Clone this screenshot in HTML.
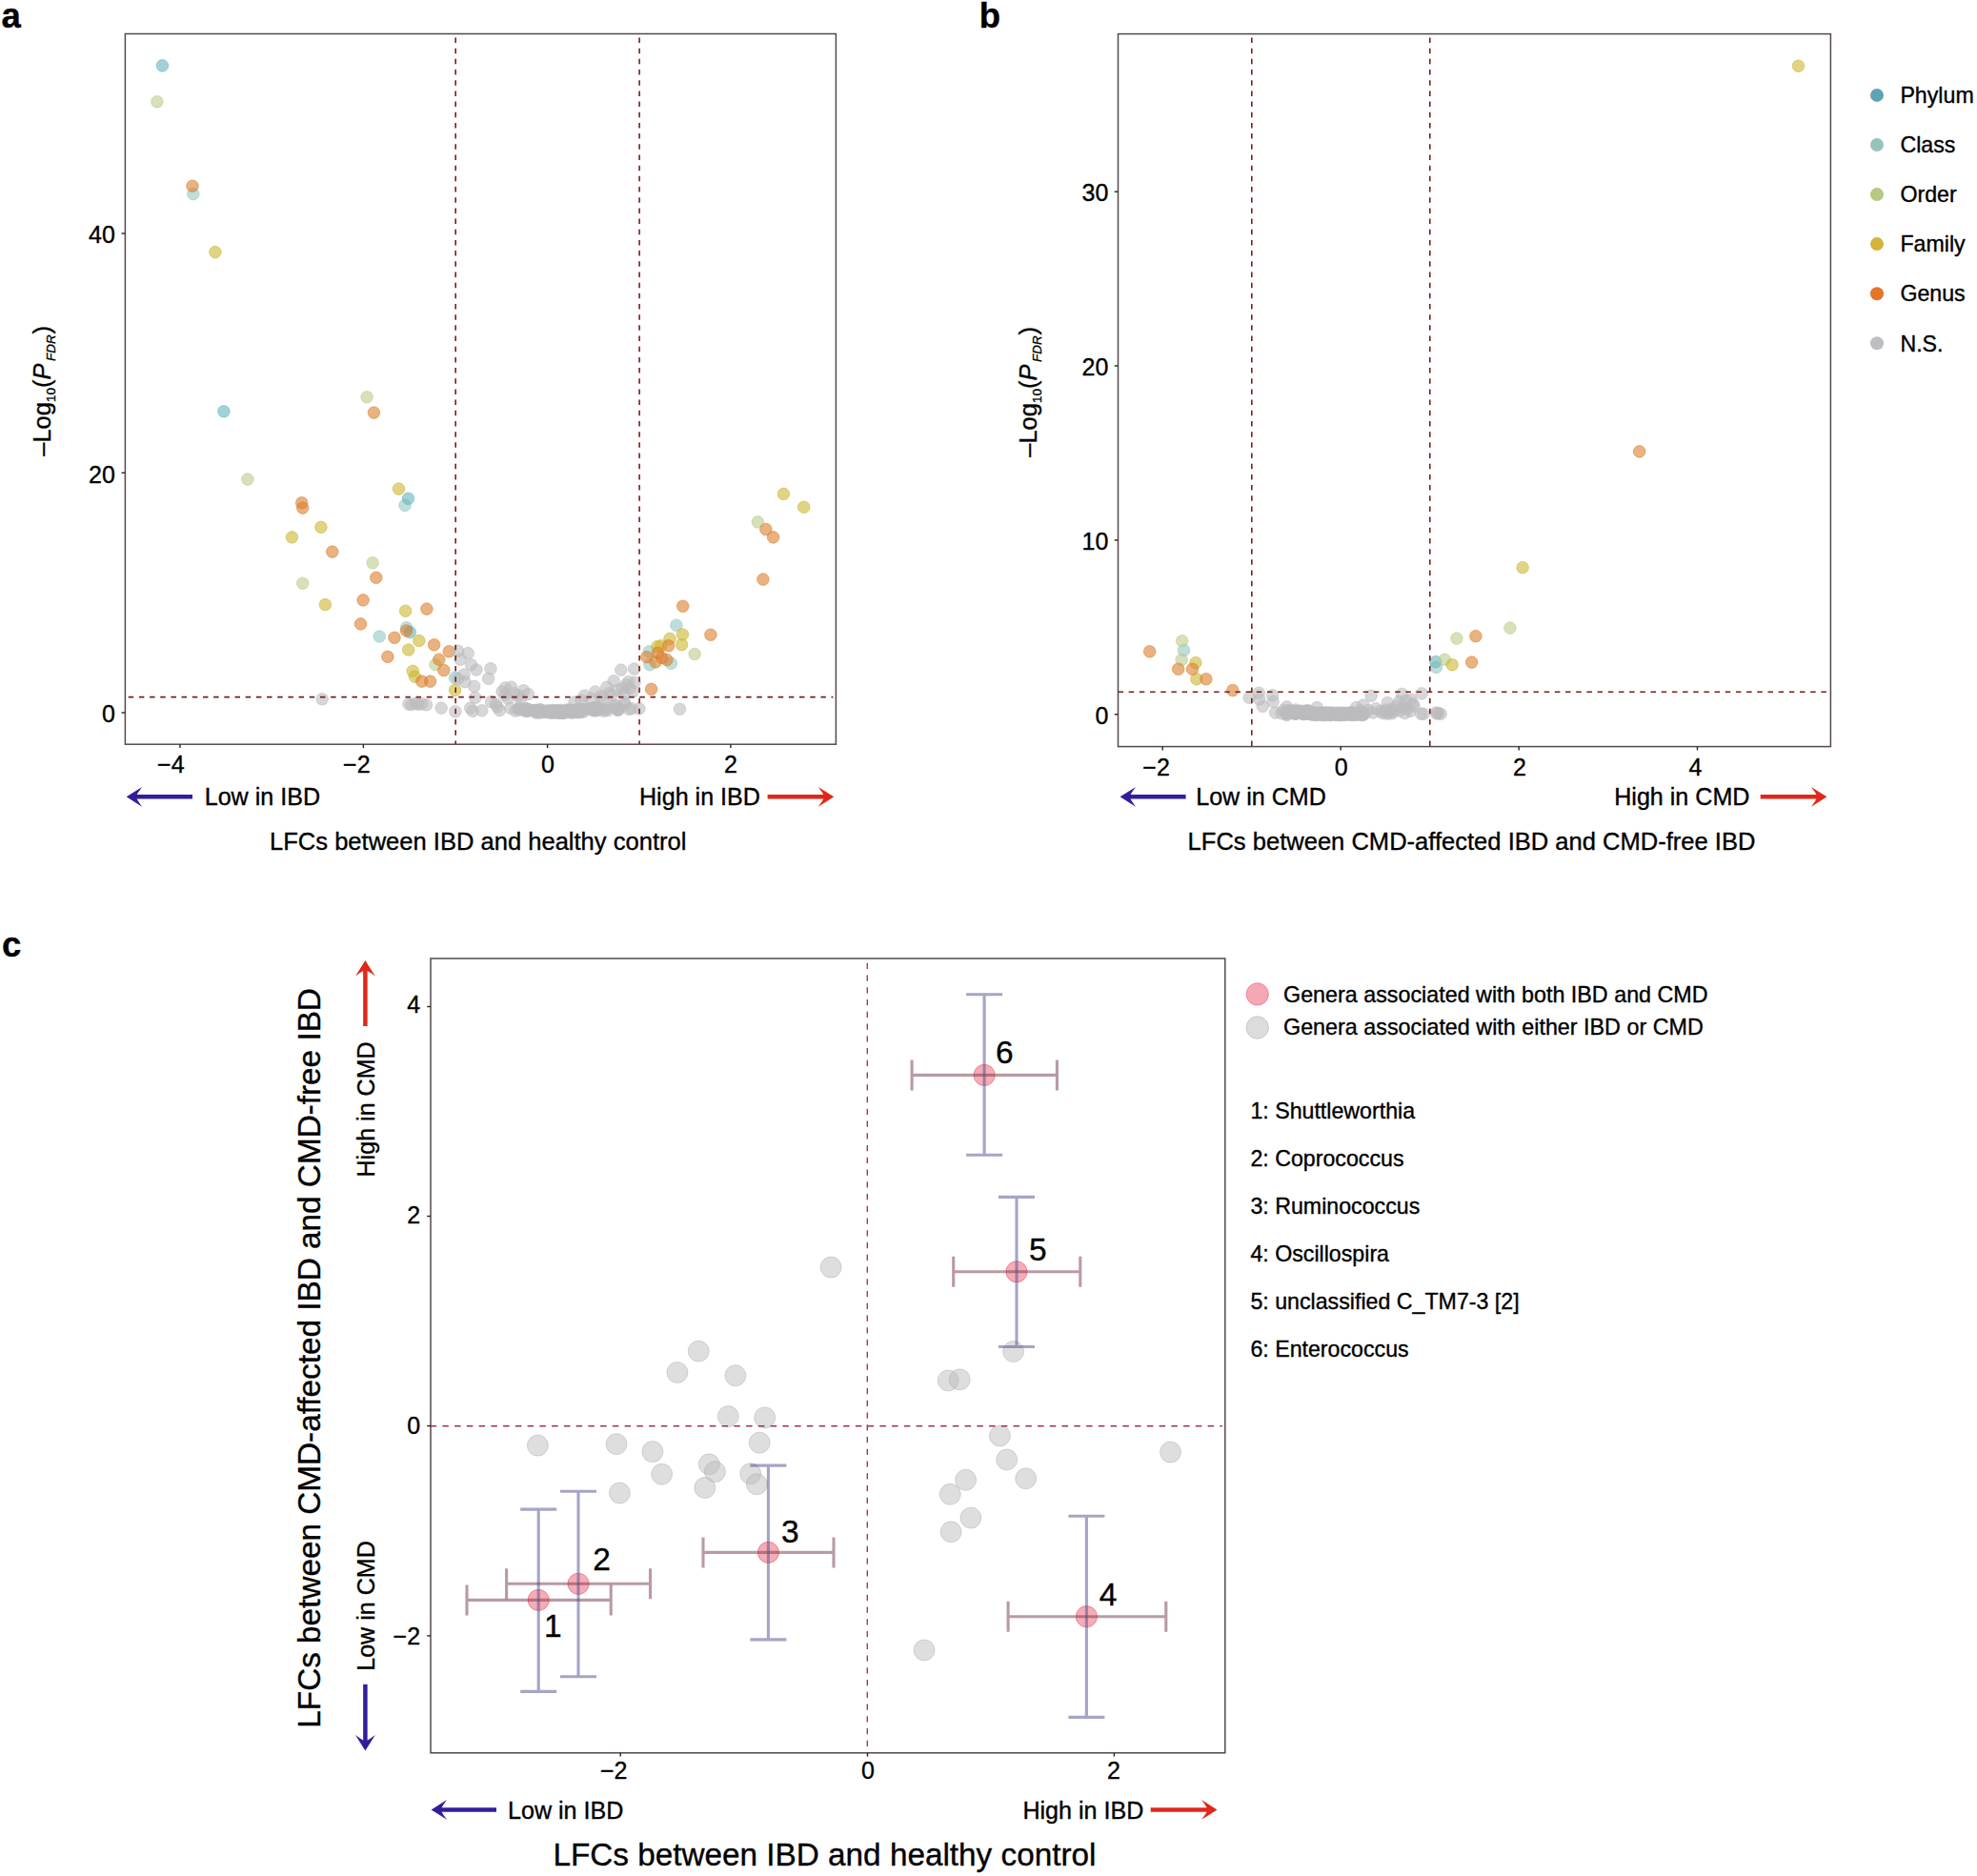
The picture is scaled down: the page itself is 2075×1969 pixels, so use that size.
<!DOCTYPE html>
<html lang="en"><head><meta charset="utf-8"><title>Figure</title>
<style>html,body{margin:0;padding:0;background:#fff}svg{display:block}text{font-family:'Liberation Sans', Arial, Helvetica, sans-serif;fill:#000;stroke:#000;stroke-width:0.35px;stroke-linejoin:round}</style>
</head><body>
<svg width="2075" height="1969" viewBox="0 0 2075 1969" role="img" aria-label="Volcano plots and log fold change comparison">
<rect width="2075" height="1969" fill="#fff"/>
<g fill="#93c8c5" fill-opacity="0.6" stroke="#93c8c5" stroke-opacity="0.55" stroke-width="1.0">
<circle cx="202.8" cy="203.6" r="6.3"/><circle cx="425" cy="530.4" r="6.3"/><circle cx="426.6" cy="658.8" r="6.3"/><circle cx="398.2" cy="668" r="6.3"/><circle cx="477.4" cy="711.4" r="6.3"/><circle cx="709.9" cy="656.2" r="6.3"/><circle cx="681.4" cy="683.8" r="6.3"/><circle cx="704.3" cy="696.2" r="6.3"/><circle cx="682" cy="697.8" r="6.3"/>
</g>
<g fill="#66b4bb" fill-opacity="0.6" stroke="#66b4bb" stroke-opacity="0.55" stroke-width="1.0">
<circle cx="170.4" cy="68.9" r="6.3"/><circle cx="234.9" cy="431.8" r="6.3"/><circle cx="428.5" cy="523.3" r="6.3"/><circle cx="430.3" cy="663.5" r="6.3"/>
</g>
<g fill="#bbcb8c" fill-opacity="0.6" stroke="#bbcb8c" stroke-opacity="0.55" stroke-width="1.0">
<circle cx="164.9" cy="106.8" r="6.3"/><circle cx="385.1" cy="416.8" r="6.3"/><circle cx="259.9" cy="503.1" r="6.3"/><circle cx="391.1" cy="590.7" r="6.3"/><circle cx="317.7" cy="612.2" r="6.3"/><circle cx="456.9" cy="697.5" r="6.3"/><circle cx="795.3" cy="547.9" r="6.3"/><circle cx="729.1" cy="686.5" r="6.3"/>
</g>
<g fill="#cbb732" fill-opacity="0.6" stroke="#cbb732" stroke-opacity="0.55" stroke-width="1.0">
<circle cx="225.9" cy="264.6" r="6.3"/><circle cx="418.5" cy="513.1" r="6.3"/><circle cx="336.9" cy="553.3" r="6.3"/><circle cx="306.4" cy="563.9" r="6.3"/><circle cx="341.4" cy="634.6" r="6.3"/><circle cx="425.6" cy="641.2" r="6.3"/><circle cx="439.8" cy="672.5" r="6.3"/><circle cx="428.7" cy="682" r="6.3"/><circle cx="433.2" cy="704.3" r="6.3"/><circle cx="435.3" cy="710.1" r="6.3"/><circle cx="477.6" cy="724.3" r="6.3"/><circle cx="822.4" cy="518.4" r="6.3"/><circle cx="843.7" cy="532.3" r="6.3"/><circle cx="716.4" cy="666" r="6.3"/><circle cx="703" cy="670.4" r="6.3"/><circle cx="715.6" cy="676.7" r="6.3"/><circle cx="689.9" cy="678.6" r="6.3"/><circle cx="693.8" cy="677.8" r="6.3"/>
</g>
<g fill="#da7f2b" fill-opacity="0.6" stroke="#da7f2b" stroke-opacity="0.55" stroke-width="1.0">
<circle cx="202" cy="195.2" r="6.3"/><circle cx="392.4" cy="433.1" r="6.3"/><circle cx="316.7" cy="527.8" r="6.3"/><circle cx="317.7" cy="533.1" r="6.3"/><circle cx="348.8" cy="579.1" r="6.3"/><circle cx="394.8" cy="606.2" r="6.3"/><circle cx="381.1" cy="629.9" r="6.3"/><circle cx="447.9" cy="639.1" r="6.3"/><circle cx="378.5" cy="654.9" r="6.3"/><circle cx="426.6" cy="662" r="6.3"/><circle cx="414" cy="669.3" r="6.3"/><circle cx="455.6" cy="676.7" r="6.3"/><circle cx="471.3" cy="683.8" r="6.3"/><circle cx="406.9" cy="689.3" r="6.3"/><circle cx="460.8" cy="692.2" r="6.3"/><circle cx="465.8" cy="703.5" r="6.3"/><circle cx="442.7" cy="715.1" r="6.3"/><circle cx="451.6" cy="715.1" r="6.3"/><circle cx="803.8" cy="555.5" r="6.3"/><circle cx="811.6" cy="563.9" r="6.3"/><circle cx="800.9" cy="608.1" r="6.3"/><circle cx="716.7" cy="636.2" r="6.3"/><circle cx="745.9" cy="666.2" r="6.3"/><circle cx="701.7" cy="677.8" r="6.3"/><circle cx="690.4" cy="685.2" r="6.3"/><circle cx="678.8" cy="689.6" r="6.3"/><circle cx="694.6" cy="690.4" r="6.3"/><circle cx="699.9" cy="692.5" r="6.3"/><circle cx="688" cy="694.9" r="6.3"/><circle cx="683.6" cy="723.3" r="6.3"/>
</g>
<g fill="#bcbbbe" fill-opacity="0.6" stroke="#bcbbbe" stroke-opacity="0.55" stroke-width="1.0">
<circle cx="480.7" cy="683.2" r="6.3"/><circle cx="491.2" cy="685.6" r="6.3"/><circle cx="483.1" cy="692.1" r="6.3"/><circle cx="494.5" cy="697.7" r="6.3"/><circle cx="515" cy="701.8" r="6.3"/><circle cx="512.6" cy="712.3" r="6.3"/><circle cx="480.7" cy="712.3" r="6.3"/><circle cx="488" cy="715.6" r="6.3"/><circle cx="497.7" cy="720.4" r="6.3"/><circle cx="498.8" cy="732.2" r="6.3"/><circle cx="530.1" cy="722" r="6.3"/><circle cx="536.5" cy="721.2" r="6.3"/><circle cx="549.5" cy="724.8" r="6.3"/><circle cx="554.4" cy="728.5" r="6.3"/><circle cx="530.1" cy="729.3" r="6.3"/><circle cx="539.8" cy="727.7" r="6.3"/><circle cx="544.6" cy="730.1" r="6.3"/><circle cx="527" cy="726" r="6.3"/><circle cx="533" cy="733" r="6.3"/><circle cx="546" cy="734" r="6.3"/><circle cx="665.7" cy="702.1" r="6.3"/><circle cx="651.8" cy="703.1" r="6.3"/><circle cx="644.2" cy="714.7" r="6.3"/><circle cx="659.6" cy="715.6" r="6.3"/><circle cx="666" cy="716.4" r="6.3"/><circle cx="636.9" cy="721.2" r="6.3"/><circle cx="657.1" cy="718.8" r="6.3"/><circle cx="624.8" cy="726.1" r="6.3"/><circle cx="613.4" cy="730.1" r="6.3"/><circle cx="639.3" cy="727.7" r="6.3"/><circle cx="653.1" cy="722.8" r="6.3"/><circle cx="630.4" cy="730.9" r="6.3"/><circle cx="620.7" cy="733.4" r="6.3"/><circle cx="648" cy="724" r="6.3"/><circle cx="661" cy="722" r="6.3"/><circle cx="642" cy="730" r="6.3"/><circle cx="633" cy="733" r="6.3"/><circle cx="655" cy="728" r="6.3"/><circle cx="664" cy="726" r="6.3"/><circle cx="610" cy="735" r="6.3"/><circle cx="603" cy="737" r="6.3"/><circle cx="428.9" cy="739" r="6.3"/><circle cx="436.2" cy="738.2" r="6.3"/><circle cx="442.7" cy="738.7" r="6.3"/><circle cx="447.5" cy="739.8" r="6.3"/><circle cx="463.2" cy="743.1" r="6.3"/><circle cx="477.9" cy="746.8" r="6.3"/><circle cx="493.6" cy="743.1" r="6.3"/><circle cx="496.1" cy="746.3" r="6.3"/><circle cx="505.8" cy="745.8" r="6.3"/><circle cx="515.5" cy="736.6" r="6.3"/><circle cx="520.4" cy="739" r="6.3"/><circle cx="524.4" cy="745.5" r="6.3"/><circle cx="522" cy="742" r="6.3"/><circle cx="670.9" cy="743.9" r="6.3"/><circle cx="713.5" cy="744.2" r="6.3"/><circle cx="338.2" cy="733.8" r="6.3"/><circle cx="432" cy="739.5" r="6.3"/><circle cx="439" cy="739.2" r="6.3"/><circle cx="500" cy="703" r="6.3"/><circle cx="487" cy="708" r="6.3"/><circle cx="582.5" cy="745.7" r="6.3"/><circle cx="608.2" cy="744.4" r="6.3"/><circle cx="598.5" cy="746.1" r="6.3"/><circle cx="552.2" cy="745.6" r="6.3"/><circle cx="547.9" cy="744.9" r="6.3"/><circle cx="554.4" cy="744.3" r="6.3"/><circle cx="590.1" cy="748.1" r="6.3"/><circle cx="562.5" cy="745.4" r="6.3"/><circle cx="606.1" cy="747.7" r="6.3"/><circle cx="601.8" cy="746" r="6.3"/><circle cx="655.4" cy="736.8" r="6.3"/><circle cx="579.7" cy="745.7" r="6.3"/><circle cx="561.7" cy="745.6" r="6.3"/><circle cx="625.7" cy="742.8" r="6.3"/><circle cx="602.2" cy="746.8" r="6.3"/><circle cx="586.3" cy="747.1" r="6.3"/><circle cx="553.1" cy="744.1" r="6.3"/><circle cx="571.9" cy="747.5" r="6.3"/><circle cx="590.4" cy="746.2" r="6.3"/><circle cx="602.5" cy="746.2" r="6.3"/><circle cx="580.5" cy="748.1" r="6.3"/><circle cx="612.8" cy="744.6" r="6.3"/><circle cx="601.6" cy="746.5" r="6.3"/><circle cx="633.9" cy="746.4" r="6.3"/><circle cx="561.7" cy="746" r="6.3"/><circle cx="618.8" cy="743.6" r="6.3"/><circle cx="594.9" cy="745.1" r="6.3"/><circle cx="609.8" cy="746.7" r="6.3"/><circle cx="601.5" cy="747.7" r="6.3"/><circle cx="581.7" cy="747.7" r="6.3"/><circle cx="603.3" cy="746.6" r="6.3"/><circle cx="592.4" cy="748" r="6.3"/><circle cx="646.6" cy="740.2" r="6.3"/><circle cx="552.7" cy="746.4" r="6.3"/><circle cx="607.9" cy="747.7" r="6.3"/><circle cx="626.5" cy="743.1" r="6.3"/><circle cx="587.3" cy="747.6" r="6.3"/><circle cx="543.9" cy="744.5" r="6.3"/><circle cx="567.8" cy="745.3" r="6.3"/><circle cx="552.4" cy="746.6" r="6.3"/><circle cx="563.2" cy="745.5" r="6.3"/><circle cx="587.7" cy="748.3" r="6.3"/><circle cx="556.2" cy="745.8" r="6.3"/><circle cx="599.6" cy="747.9" r="6.3"/><circle cx="626.1" cy="745.2" r="6.3"/><circle cx="578.7" cy="746.7" r="6.3"/><circle cx="585.3" cy="748.4" r="6.3"/><circle cx="649.8" cy="744.2" r="6.3"/><circle cx="574.6" cy="746.9" r="6.3"/><circle cx="602.8" cy="745.5" r="6.3"/><circle cx="535.9" cy="743.3" r="6.3"/><circle cx="586.1" cy="747.2" r="6.3"/><circle cx="648.6" cy="745.4" r="6.3"/><circle cx="610.6" cy="744.1" r="6.3"/><circle cx="637.8" cy="743" r="6.3"/><circle cx="623.5" cy="743.9" r="6.3"/><circle cx="588.3" cy="745.5" r="6.3"/><circle cx="606.7" cy="744.4" r="6.3"/><circle cx="554" cy="744.7" r="6.3"/><circle cx="567.2" cy="746.1" r="6.3"/><circle cx="551.2" cy="743.7" r="6.3"/><circle cx="565.9" cy="745.2" r="6.3"/><circle cx="585.7" cy="745.3" r="6.3"/><circle cx="633.7" cy="744.3" r="6.3"/><circle cx="584.4" cy="746.5" r="6.3"/><circle cx="562.4" cy="747.6" r="6.3"/><circle cx="663" cy="743.8" r="6.3"/><circle cx="559.5" cy="745.6" r="6.3"/><circle cx="577.5" cy="748.2" r="6.3"/><circle cx="567.1" cy="744.9" r="6.3"/><circle cx="648.1" cy="745.1" r="6.3"/><circle cx="545.2" cy="744.9" r="6.3"/><circle cx="656.2" cy="739.5" r="6.3"/><circle cx="577.2" cy="746.5" r="6.3"/><circle cx="567.7" cy="747.7" r="6.3"/><circle cx="598.2" cy="747.6" r="6.3"/><circle cx="583" cy="746" r="6.3"/><circle cx="625.2" cy="745.8" r="6.3"/><circle cx="630.6" cy="744.3" r="6.3"/><circle cx="617" cy="744.1" r="6.3"/><circle cx="597.1" cy="746.1" r="6.3"/><circle cx="545.7" cy="743.2" r="6.3"/><circle cx="578.8" cy="746.1" r="6.3"/><circle cx="612.2" cy="747.2" r="6.3"/><circle cx="591.8" cy="748.4" r="6.3"/><circle cx="660.2" cy="744.2" r="6.3"/><circle cx="574" cy="745.8" r="6.3"/><circle cx="571.7" cy="747.3" r="6.3"/><circle cx="637.9" cy="745.5" r="6.3"/><circle cx="623.7" cy="742.7" r="6.3"/><circle cx="609.1" cy="747.3" r="6.3"/><circle cx="621.7" cy="745.4" r="6.3"/><circle cx="594" cy="745.6" r="6.3"/><circle cx="622.4" cy="743.8" r="6.3"/><circle cx="623.8" cy="745.9" r="6.3"/><circle cx="588.1" cy="746.6" r="6.3"/><circle cx="647.1" cy="743.9" r="6.3"/><circle cx="565.9" cy="748" r="6.3"/><circle cx="624.5" cy="742.8" r="6.3"/><circle cx="627.1" cy="745.5" r="6.3"/><circle cx="608.8" cy="745.3" r="6.3"/><circle cx="599.5" cy="745.2" r="6.3"/><circle cx="541" cy="746" r="6.3"/><circle cx="608.1" cy="746" r="6.3"/><circle cx="644.2" cy="740.6" r="6.3"/><circle cx="627" cy="742.7" r="6.3"/><circle cx="576.3" cy="746.2" r="6.3"/><circle cx="575.3" cy="747.2" r="6.3"/><circle cx="577" cy="746.7" r="6.3"/><circle cx="563.4" cy="747.9" r="6.3"/><circle cx="584.9" cy="746.8" r="6.3"/><circle cx="602.3" cy="747.8" r="6.3"/><circle cx="589.9" cy="748.4" r="6.3"/><circle cx="595.8" cy="746.8" r="6.3"/><circle cx="597.5" cy="744.9" r="6.3"/>
</g>
<g stroke="#74201a" stroke-width="1.6" stroke-dasharray="5.5 5.68" fill="none">
<path d="M478.2 39.5V781.2"/><path d="M671.1 39.5V781.2"/><path d="M131.4 731.6H874.4" stroke-dashoffset="-3.3"/>
</g>
<rect x="131.4" y="35.5" width="746" height="745.7" fill="none" stroke="#54494b" stroke-width="1.5"/>
<g stroke="#2a2224" stroke-width="1.4">
<path d="M127.6 245H131.4"/>
<path d="M127.6 496.3H131.4"/>
<path d="M127.6 748H131.4"/>
<path d="M188.9 781.2V785"/>
<path d="M381.4 781.2V785"/>
<path d="M574.6 781.2V785"/>
<path d="M766.9 781.2V785"/>
</g>
<text x="120.8" y="254.9" font-size="25" text-anchor="end">40</text>
<text x="120.8" y="507" font-size="25" text-anchor="end">20</text>
<text x="120.8" y="757.8" font-size="25" text-anchor="end">0</text>
<text x="193.6" y="811.3" font-size="25" text-anchor="end">−4</text>
<text x="388.6" y="811.3" font-size="25" text-anchor="end">−2</text>
<text x="574.9" y="811.3" font-size="25" text-anchor="middle">0</text>
<text x="767" y="811.3" font-size="25" text-anchor="middle">2</text>
<text transform="translate(53.1 478.8) rotate(-90)" font-size="25.5">–Log<tspan font-size="13.5" dy="5.3">10</tspan><tspan dy="-5.3">(</tspan><tspan font-style="italic">P</tspan><tspan font-size="13.5" font-style="italic" dy="5.3" dx="2.6">FDR</tspan><tspan dy="-5.3" dx="0.8">)</tspan></text>
<path d="M202 836.3H141.5" stroke="#321e9b" stroke-width="4.5" fill="none"/>
<path d="M132.7 836.3L149.1 825.9Q144.5 831.7 142.5 836.3Q144.5 840.9 149.1 846.7Z" fill="#321e9b"/>
<text x="214.7" y="845.4" font-size="25.1">Low in IBD</text>
<text x="671" y="845.4" font-size="25.1">High in IBD</text>
<path d="M805.6 836.3H866.4" stroke="#e0281a" stroke-width="4.5" fill="none"/>
<path d="M875.2 836.3L858.8 825.9Q863.4 831.7 865.4 836.3Q863.4 840.9 858.8 846.7Z" fill="#e0281a"/>
<text x="283" y="891.9" font-size="25.55">LFCs between IBD and healthy control</text>
<text x="1.5" y="28.9" font-size="36.5" font-weight="bold">a</text>
<g fill="#93c8c5" fill-opacity="0.6" stroke="#93c8c5" stroke-opacity="0.55" stroke-width="1.0">
<circle cx="1242.5" cy="682.5" r="6.3"/><circle cx="1507.4" cy="700.4" r="6.3"/>
</g>
<g fill="#66b4bb" fill-opacity="0.6" stroke="#66b4bb" stroke-opacity="0.55" stroke-width="1.0">
<circle cx="1506.8" cy="694.6" r="6.3"/>
</g>
<g fill="#bbcb8c" fill-opacity="0.6" stroke="#bbcb8c" stroke-opacity="0.55" stroke-width="1.0">
<circle cx="1240.7" cy="672.7" r="6.3"/><circle cx="1240.1" cy="692.5" r="6.3"/><circle cx="1584.9" cy="659.1" r="6.3"/><circle cx="1528.9" cy="670.1" r="6.3"/><circle cx="1516.3" cy="692.2" r="6.3"/>
</g>
<g fill="#cbb732" fill-opacity="0.6" stroke="#cbb732" stroke-opacity="0.55" stroke-width="1.0">
<circle cx="1254.9" cy="695.6" r="6.3"/><circle cx="1255.9" cy="712.7" r="6.3"/><circle cx="1887.5" cy="69.2" r="6.3"/><circle cx="1598.1" cy="595.7" r="6.3"/><circle cx="1524.2" cy="697.7" r="6.3"/>
</g>
<g fill="#da7f2b" fill-opacity="0.6" stroke="#da7f2b" stroke-opacity="0.55" stroke-width="1.0">
<circle cx="1206.7" cy="683.8" r="6.3"/><circle cx="1236.7" cy="702.2" r="6.3"/><circle cx="1251.5" cy="702.2" r="6.3"/><circle cx="1265.9" cy="712.7" r="6.3"/><circle cx="1293.8" cy="724.6" r="6.3"/><circle cx="1720.7" cy="473.9" r="6.3"/><circle cx="1548.9" cy="667.7" r="6.3"/><circle cx="1544.7" cy="695.1" r="6.3"/>
</g>
<g fill="#bcbbbe" fill-opacity="0.6" stroke="#bcbbbe" stroke-opacity="0.55" stroke-width="1.0">
<circle cx="1311.2" cy="732.2" r="6.3"/><circle cx="1321.3" cy="727.3" r="6.3"/><circle cx="1321.8" cy="734" r="6.3"/><circle cx="1335.5" cy="729.7" r="6.3"/><circle cx="1336.1" cy="736.4" r="6.3"/><circle cx="1325.2" cy="741.3" r="6.3"/><circle cx="1338.6" cy="748" r="6.3"/><circle cx="1350.7" cy="741.9" r="6.3"/><circle cx="1347.1" cy="745.5" r="6.3"/><circle cx="1350.7" cy="750.4" r="6.3"/><circle cx="1345" cy="748.8" r="6.3"/><circle cx="1353" cy="745.5" r="6.3"/><circle cx="1356" cy="747.5" r="6.3"/><circle cx="1382.3" cy="742.5" r="6.3"/><circle cx="1360" cy="745" r="6.3"/><circle cx="1366" cy="746.2" r="6.3"/><circle cx="1439.1" cy="730.3" r="6.3"/><circle cx="1430.8" cy="740.1" r="6.3"/><circle cx="1423.5" cy="742.5" r="6.3"/><circle cx="1444.2" cy="743.7" r="6.3"/><circle cx="1436" cy="745.5" r="6.3"/><circle cx="1441" cy="748" r="6.3"/><circle cx="1428" cy="746" r="6.3"/><circle cx="1451" cy="748.6" r="6.3"/><circle cx="1453.5" cy="747" r="6.3"/><circle cx="1456" cy="749.2" r="6.3"/><circle cx="1458.5" cy="747.6" r="6.3"/><circle cx="1461" cy="748.8" r="6.3"/><circle cx="1462.4" cy="746.8" r="6.3"/><circle cx="1454.5" cy="745.2" r="6.3"/><circle cx="1459.5" cy="744.8" r="6.3"/><circle cx="1456.3" cy="737.6" r="6.3"/><circle cx="1449" cy="746.5" r="6.3"/><circle cx="1471.5" cy="728.5" r="6.3"/><circle cx="1492.1" cy="727.9" r="6.3"/><circle cx="1468.5" cy="736.4" r="6.3"/><circle cx="1475.7" cy="735.2" r="6.3"/><circle cx="1480.6" cy="734" r="6.3"/><circle cx="1483" cy="738.8" r="6.3"/><circle cx="1472.1" cy="742.5" r="6.3"/><circle cx="1477" cy="743.7" r="6.3"/><circle cx="1474.5" cy="748.6" r="6.3"/><circle cx="1469" cy="746" r="6.3"/><circle cx="1480" cy="746.5" r="6.3"/><circle cx="1491.5" cy="749.2" r="6.3"/><circle cx="1494" cy="749.2" r="6.3"/><circle cx="1509.7" cy="748.6" r="6.3"/><circle cx="1512.2" cy="749.2" r="6.3"/><circle cx="1507.3" cy="748" r="6.3"/><circle cx="1508.5" cy="749" r="6.3"/><circle cx="1484" cy="741" r="6.3"/><circle cx="1466" cy="741" r="6.3"/><circle cx="1386.1" cy="748.5" r="6.3"/><circle cx="1350.3" cy="749.7" r="6.3"/><circle cx="1388.8" cy="749.9" r="6.3"/><circle cx="1395.6" cy="748.8" r="6.3"/><circle cx="1392.5" cy="749.4" r="6.3"/><circle cx="1414.3" cy="748.3" r="6.3"/><circle cx="1395.9" cy="748.6" r="6.3"/><circle cx="1372.7" cy="748.8" r="6.3"/><circle cx="1396.1" cy="750" r="6.3"/><circle cx="1424.8" cy="749.2" r="6.3"/><circle cx="1400.2" cy="749.3" r="6.3"/><circle cx="1392" cy="749.8" r="6.3"/><circle cx="1387.1" cy="749.4" r="6.3"/><circle cx="1389.2" cy="750.4" r="6.3"/><circle cx="1407.3" cy="750.3" r="6.3"/><circle cx="1427.3" cy="748.7" r="6.3"/><circle cx="1395.9" cy="750.5" r="6.3"/><circle cx="1418.9" cy="748.4" r="6.3"/><circle cx="1360" cy="749" r="6.3"/><circle cx="1369.7" cy="746.6" r="6.3"/><circle cx="1414.3" cy="750.3" r="6.3"/><circle cx="1362.7" cy="748.3" r="6.3"/><circle cx="1361.7" cy="748" r="6.3"/><circle cx="1368" cy="749.5" r="6.3"/><circle cx="1390" cy="750.6" r="6.3"/><circle cx="1418.3" cy="748.4" r="6.3"/><circle cx="1385.4" cy="749.3" r="6.3"/><circle cx="1377.8" cy="748.5" r="6.3"/><circle cx="1376.1" cy="749.9" r="6.3"/><circle cx="1351.6" cy="748.4" r="6.3"/><circle cx="1351.5" cy="747.4" r="6.3"/><circle cx="1392" cy="748.2" r="6.3"/><circle cx="1430.8" cy="750" r="6.3"/><circle cx="1429.7" cy="748.3" r="6.3"/><circle cx="1371.8" cy="746.2" r="6.3"/><circle cx="1372.2" cy="747.3" r="6.3"/><circle cx="1424.7" cy="750.1" r="6.3"/><circle cx="1371.2" cy="746.2" r="6.3"/><circle cx="1396.8" cy="749.8" r="6.3"/><circle cx="1357.3" cy="746.5" r="6.3"/><circle cx="1384.9" cy="748.2" r="6.3"/><circle cx="1426.9" cy="749.6" r="6.3"/><circle cx="1415.7" cy="748.2" r="6.3"/><circle cx="1420.2" cy="748.2" r="6.3"/><circle cx="1420.7" cy="749.2" r="6.3"/><circle cx="1377.8" cy="749.4" r="6.3"/><circle cx="1426" cy="748.7" r="6.3"/><circle cx="1360.6" cy="748.8" r="6.3"/><circle cx="1359" cy="748.3" r="6.3"/><circle cx="1366.5" cy="748.1" r="6.3"/><circle cx="1412.3" cy="748.8" r="6.3"/><circle cx="1391" cy="748.5" r="6.3"/><circle cx="1378.5" cy="748" r="6.3"/><circle cx="1370.5" cy="746.3" r="6.3"/><circle cx="1395.2" cy="748.5" r="6.3"/><circle cx="1388.9" cy="750.4" r="6.3"/><circle cx="1358.7" cy="749.1" r="6.3"/><circle cx="1390.6" cy="750.2" r="6.3"/><circle cx="1382.2" cy="749.3" r="6.3"/><circle cx="1406.4" cy="750.6" r="6.3"/><circle cx="1378.1" cy="750.2" r="6.3"/><circle cx="1408" cy="749.7" r="6.3"/><circle cx="1383.2" cy="748.9" r="6.3"/><circle cx="1354.5" cy="748.2" r="6.3"/><circle cx="1410.8" cy="748.7" r="6.3"/><circle cx="1363.4" cy="746.2" r="6.3"/><circle cx="1421.4" cy="749.7" r="6.3"/><circle cx="1373.1" cy="747.9" r="6.3"/><circle cx="1387.7" cy="748.4" r="6.3"/><circle cx="1386.6" cy="748.7" r="6.3"/><circle cx="1428.9" cy="750.5" r="6.3"/><circle cx="1394.9" cy="748.6" r="6.3"/><circle cx="1429.2" cy="748.8" r="6.3"/><circle cx="1379.2" cy="748" r="6.3"/><circle cx="1381.3" cy="749.2" r="6.3"/><circle cx="1391.2" cy="748.5" r="6.3"/><circle cx="1391.4" cy="748" r="6.3"/><circle cx="1371.7" cy="747.3" r="6.3"/><circle cx="1353.4" cy="747.3" r="6.3"/><circle cx="1369.1" cy="748.3" r="6.3"/><circle cx="1411.5" cy="749.7" r="6.3"/><circle cx="1408.7" cy="750.3" r="6.3"/><circle cx="1381.9" cy="748.8" r="6.3"/><circle cx="1430.7" cy="748.4" r="6.3"/><circle cx="1409.4" cy="749.7" r="6.3"/><circle cx="1353.6" cy="748" r="6.3"/><circle cx="1401.4" cy="749.9" r="6.3"/><circle cx="1416.6" cy="748.4" r="6.3"/><circle cx="1392.9" cy="749.3" r="6.3"/><circle cx="1418.5" cy="750.1" r="6.3"/><circle cx="1417.8" cy="749.5" r="6.3"/><circle cx="1423.2" cy="749.8" r="6.3"/><circle cx="1406.9" cy="748.6" r="6.3"/><circle cx="1352.6" cy="747.5" r="6.3"/><circle cx="1358.6" cy="748.8" r="6.3"/><circle cx="1401.5" cy="749.6" r="6.3"/><circle cx="1405.8" cy="749.3" r="6.3"/><circle cx="1350.3" cy="748.3" r="6.3"/><circle cx="1391.2" cy="749.4" r="6.3"/><circle cx="1404.1" cy="748.2" r="6.3"/><circle cx="1410.4" cy="748.7" r="6.3"/><circle cx="1356.1" cy="746.9" r="6.3"/><circle cx="1366.8" cy="747.6" r="6.3"/><circle cx="1390.5" cy="749" r="6.3"/><circle cx="1389.3" cy="749.8" r="6.3"/><circle cx="1412.9" cy="749.6" r="6.3"/><circle cx="1402.7" cy="748.2" r="6.3"/><circle cx="1362.1" cy="746.9" r="6.3"/><circle cx="1375" cy="749.4" r="6.3"/><circle cx="1355" cy="747.1" r="6.3"/><circle cx="1406.8" cy="749.8" r="6.3"/><circle cx="1373.9" cy="748.2" r="6.3"/><circle cx="1388.2" cy="748.3" r="6.3"/><circle cx="1423.3" cy="748.5" r="6.3"/><circle cx="1430.2" cy="750.4" r="6.3"/><circle cx="1351.4" cy="747.2" r="6.3"/><circle cx="1429.4" cy="749.2" r="6.3"/><circle cx="1372" cy="746.3" r="6.3"/><circle cx="1367.3" cy="749.2" r="6.3"/><circle cx="1393" cy="750.5" r="6.3"/><circle cx="1360.9" cy="748.9" r="6.3"/><circle cx="1422.7" cy="749.8" r="6.3"/><circle cx="1369" cy="749.2" r="6.3"/><circle cx="1352" cy="746.8" r="6.3"/><circle cx="1387" cy="748.8" r="6.3"/><circle cx="1361.5" cy="748.1" r="6.3"/><circle cx="1418.9" cy="748" r="6.3"/><circle cx="1411.6" cy="750.2" r="6.3"/><circle cx="1359.8" cy="748.7" r="6.3"/><circle cx="1423.9" cy="748.8" r="6.3"/><circle cx="1380.5" cy="749" r="6.3"/><circle cx="1431.9" cy="749.5" r="6.3"/><circle cx="1379.6" cy="749.1" r="6.3"/><circle cx="1372.6" cy="747.9" r="6.3"/><circle cx="1418.4" cy="748.7" r="6.3"/><circle cx="1426.7" cy="748.6" r="6.3"/><circle cx="1371.8" cy="748.9" r="6.3"/><circle cx="1380.6" cy="750.5" r="6.3"/><circle cx="1422.5" cy="750.1" r="6.3"/><circle cx="1401.7" cy="750.4" r="6.3"/><circle cx="1427.1" cy="749.4" r="6.3"/><circle cx="1409" cy="748.1" r="6.3"/><circle cx="1410.1" cy="749.2" r="6.3"/><circle cx="1411.7" cy="749.7" r="6.3"/><circle cx="1373.5" cy="745.9" r="6.3"/><circle cx="1360.4" cy="748.4" r="6.3"/><circle cx="1374.4" cy="747.6" r="6.3"/><circle cx="1371.3" cy="749" r="6.3"/><circle cx="1395.7" cy="749" r="6.3"/><circle cx="1363.7" cy="747.9" r="6.3"/><circle cx="1424.3" cy="749.3" r="6.3"/><circle cx="1368" cy="748" r="6.3"/><circle cx="1386.9" cy="748.4" r="6.3"/><circle cx="1365.8" cy="747.4" r="6.3"/><circle cx="1357.5" cy="748" r="6.3"/><circle cx="1396.7" cy="750.3" r="6.3"/><circle cx="1411.5" cy="749.1" r="6.3"/><circle cx="1383.9" cy="749.4" r="6.3"/><circle cx="1380.9" cy="748.9" r="6.3"/><circle cx="1355.1" cy="746.4" r="6.3"/><circle cx="1360.3" cy="747.8" r="6.3"/><circle cx="1420.8" cy="748.6" r="6.3"/><circle cx="1372.2" cy="747.7" r="6.3"/><circle cx="1386.6" cy="750.5" r="6.3"/><circle cx="1419.6" cy="750.3" r="6.3"/><circle cx="1351.8" cy="746.4" r="6.3"/><circle cx="1423.4" cy="749.2" r="6.3"/><circle cx="1398.1" cy="748" r="6.3"/><circle cx="1382.1" cy="750.4" r="6.3"/><circle cx="1417.7" cy="750.2" r="6.3"/><circle cx="1429.7" cy="748.6" r="6.3"/><circle cx="1358.9" cy="747.1" r="6.3"/><circle cx="1405.9" cy="750.4" r="6.3"/><circle cx="1409.2" cy="749.7" r="6.3"/><circle cx="1412.7" cy="749.2" r="6.3"/><circle cx="1395.2" cy="748.1" r="6.3"/><circle cx="1414.1" cy="748.6" r="6.3"/><circle cx="1425.4" cy="749.7" r="6.3"/><circle cx="1374.9" cy="747.7" r="6.3"/><circle cx="1402.2" cy="749.8" r="6.3"/><circle cx="1359.2" cy="746.9" r="6.3"/><circle cx="1397.8" cy="749" r="6.3"/><circle cx="1368.3" cy="749.5" r="6.3"/><circle cx="1374.7" cy="746.9" r="6.3"/><circle cx="1402.9" cy="750.3" r="6.3"/><circle cx="1389" cy="748.6" r="6.3"/><circle cx="1370.3" cy="748.8" r="6.3"/><circle cx="1375.2" cy="748.1" r="6.3"/><circle cx="1390.9" cy="749.8" r="6.3"/><circle cx="1384.4" cy="748.7" r="6.3"/><circle cx="1404.7" cy="750.4" r="6.3"/><circle cx="1368.6" cy="747.3" r="6.3"/><circle cx="1384.5" cy="749.8" r="6.3"/><circle cx="1366.2" cy="748.3" r="6.3"/><circle cx="1391.4" cy="748.5" r="6.3"/><circle cx="1429.5" cy="748.8" r="6.3"/><circle cx="1417.2" cy="748.6" r="6.3"/><circle cx="1368.2" cy="749.3" r="6.3"/><circle cx="1428.1" cy="749.3" r="6.3"/><circle cx="1365.4" cy="747.6" r="6.3"/>
</g>
<g stroke="#74201a" stroke-width="1.6" stroke-dasharray="5.5 5.68" fill="none">
<path d="M1313.8 39.5V783.6"/><path d="M1500.8 39.5V783.6"/><path d="M1173.5 726.2H1918.4"/>
</g>
<rect x="1173.5" y="35.6" width="747.9" height="748" fill="none" stroke="#54494b" stroke-width="1.5"/>
<g stroke="#2a2224" stroke-width="1.4">
<path d="M1169.7 201.2H1173.5"/>
<path d="M1169.7 384H1173.5"/>
<path d="M1169.7 566.9H1173.5"/>
<path d="M1169.7 749.8H1173.5"/>
<path d="M1220.2 783.6V787.4"/>
<path d="M1407.2 783.6V787.4"/>
<path d="M1594.2 783.6V787.4"/>
<path d="M1781.5 783.6V787.4"/>
</g>
<text x="1163.4" y="211.4" font-size="25" text-anchor="end">30</text>
<text x="1163.4" y="394.1" font-size="25" text-anchor="end">20</text>
<text x="1163.4" y="576.9" font-size="25" text-anchor="end">10</text>
<text x="1163.4" y="759.6" font-size="25" text-anchor="end">0</text>
<text x="1227.8" y="814.3" font-size="25" text-anchor="end">−2</text>
<text x="1407.6" y="814.3" font-size="25" text-anchor="middle">0</text>
<text x="1595" y="814.3" font-size="25" text-anchor="middle">2</text>
<text x="1779.4" y="814.3" font-size="25" text-anchor="middle">4</text>
<text transform="translate(1087.9 479.8) rotate(-90)" font-size="25.5">–Log<tspan font-size="13.5" dy="5.3">10</tspan><tspan dy="-5.3">(</tspan><tspan font-style="italic">P</tspan><tspan font-size="13.5" font-style="italic" dy="5.3" dx="2.6">FDR</tspan><tspan dy="-5.3" dx="0.8">)</tspan></text>
<path d="M1244.6 836.3H1184.4" stroke="#321e9b" stroke-width="4.5" fill="none"/>
<path d="M1175.6 836.3L1192 825.9Q1187.4 831.7 1185.4 836.3Q1187.4 840.9 1192 846.7Z" fill="#321e9b"/>
<text x="1255.2" y="845.4" font-size="25.1">Low in CMD</text>
<text x="1694.2" y="845.4" font-size="25.1">High in CMD</text>
<path d="M1847.7 836.3H1908.6" stroke="#e0281a" stroke-width="4.5" fill="none"/>
<path d="M1917.4 836.3L1901 825.9Q1905.6 831.7 1907.6 836.3Q1905.6 840.9 1901 846.7Z" fill="#e0281a"/>
<text x="1246.6" y="891.9" font-size="25.55">LFCs between CMD-affected IBD and CMD-free IBD</text>
<text x="1027.7" y="28.9" font-size="36.5" font-weight="bold">b</text>
<circle cx="1970" cy="99.9" r="7" fill="#5da5b3"/>
<text x="1994.4" y="108.1" font-size="23.2">Phylum</text>
<circle cx="1970" cy="152" r="7" fill="#96c4bc"/>
<text x="1994.4" y="160.2" font-size="23.2">Class</text>
<circle cx="1970" cy="204.1" r="7" fill="#b6c885"/>
<text x="1994.4" y="212.3" font-size="23.2">Order</text>
<circle cx="1970" cy="256.1" r="7" fill="#d6b238"/>
<text x="1994.4" y="264.3" font-size="23.2">Family</text>
<circle cx="1970" cy="308.2" r="7" fill="#e4752a"/>
<text x="1994.4" y="316.4" font-size="23.2">Genus</text>
<circle cx="1970" cy="360.3" r="7" fill="#bebec2"/>
<text x="1994.4" y="368.5" font-size="23.2">N.S.</text>
<g fill="#bbbbbb" fill-opacity="0.49" stroke="#a8a8aa" stroke-opacity="0.4" stroke-width="1">
<circle cx="872.1" cy="1330.1" r="11"/><circle cx="733.3" cy="1418.2" r="11"/><circle cx="710.9" cy="1440.5" r="11"/><circle cx="771.9" cy="1443.8" r="11"/><circle cx="764.3" cy="1486.6" r="11"/><circle cx="802.7" cy="1487.9" r="11"/><circle cx="564.4" cy="1517.1" r="11"/><circle cx="647" cy="1515.7" r="11"/><circle cx="684.9" cy="1523.6" r="11"/><circle cx="797.2" cy="1514.2" r="11"/><circle cx="744.3" cy="1536.8" r="11"/><circle cx="750.4" cy="1544.7" r="11"/><circle cx="694.6" cy="1547.3" r="11"/><circle cx="787.7" cy="1546.8" r="11"/><circle cx="794.3" cy="1557.8" r="11"/><circle cx="739.8" cy="1561.5" r="11"/><circle cx="650.4" cy="1567" r="11"/><circle cx="1063.6" cy="1418.5" r="11"/><circle cx="995.2" cy="1449" r="11"/><circle cx="1007.3" cy="1447.9" r="11"/><circle cx="1049.4" cy="1507" r="11"/><circle cx="1228.5" cy="1524.1" r="11"/><circle cx="1056.7" cy="1532" r="11"/><circle cx="1076.7" cy="1551.8" r="11"/><circle cx="1013.6" cy="1553.3" r="11"/><circle cx="997.3" cy="1568.3" r="11"/><circle cx="1018.9" cy="1593.1" r="11"/><circle cx="998.1" cy="1607.8" r="11"/><circle cx="970" cy="1731.9" r="11"/>
</g>
<g stroke="#a23248" stroke-width="1.35" fill="none">
<path d="M910.3 1010.8V1839.8" stroke-dasharray="6.2 6.55"/><path d="M451.6 1496.7H1282.8" stroke-dasharray="6.5 6.25"/>
</g>
<g fill="#e8415c" fill-opacity="0.44" stroke="#e8415c" stroke-opacity="0.5" stroke-width="1">
<circle cx="565.2" cy="1679.4" r="11.1"/>
<circle cx="607" cy="1662.3" r="11.1"/>
<circle cx="806.4" cy="1629.4" r="11.1"/>
<circle cx="1140.4" cy="1696.7" r="11.1"/>
<circle cx="1067" cy="1334.8" r="11.1"/>
<circle cx="1033.1" cy="1128.4" r="11.1"/>
</g>
<g stroke="#733745" stroke-opacity="0.5" stroke-width="3.1" fill="none">
<path d="M490 1679.4H641.2M490 1663.4V1695.4M641.2 1663.4V1695.4"/>
<path d="M531.6 1662.3H682.5M531.6 1646.3V1678.3M682.5 1646.3V1678.3"/>
<path d="M738 1629.4H875M738 1613.4V1645.4M875 1613.4V1645.4"/>
<path d="M1058.1 1696.7H1223.8M1058.1 1680.7V1712.7M1223.8 1680.7V1712.7"/>
<path d="M1000.7 1334.8H1133.8M1000.7 1318.8V1350.8M1133.8 1318.8V1350.8"/>
<path d="M957.1 1128.4H1109.4M957.1 1112.4V1144.4M1109.4 1112.4V1144.4"/>
</g>
<g stroke="#4c4c90" stroke-opacity="0.5" stroke-width="3.1" fill="none">
<path d="M565.2 1584.1V1775.4M546.2 1584.1H584.2M546.2 1775.4H584.2"/>
<path d="M607 1565.2V1759.8M588 1565.2H626M588 1759.8H626"/>
<path d="M806.4 1538.1V1720.9M787.4 1538.1H825.4M787.4 1720.9H825.4"/>
<path d="M1140.4 1591.2V1802.4M1121.4 1591.2H1159.4M1121.4 1802.4H1159.4"/>
<path d="M1067 1256.4V1413.5M1048 1256.4H1086M1048 1413.5H1086"/>
<path d="M1033.1 1043.7V1212.3M1014.1 1043.7H1052.1M1014.1 1212.3H1052.1"/>
</g>
<text x="570.9" y="1717.8" font-size="33.5">1</text>
<text x="622.3" y="1647.8" font-size="33.5">2</text>
<text x="820.1" y="1618.9" font-size="33.5">3</text>
<text x="1153.7" y="1684.6" font-size="33.5">4</text>
<text x="1080" y="1323" font-size="33.5">5</text>
<text x="1044.9" y="1115.7" font-size="33.5">6</text>
<rect x="452" y="1006" width="833.8" height="833.8" fill="none" stroke="#54494b" stroke-width="1.5"/>
<g stroke="#2a2224" stroke-width="1.4">
<path d="M448.2 1056.5H452"/>
<path d="M448.2 1276.5H452"/>
<path d="M448.2 1496.6H452"/>
<path d="M448.2 1716.9H452"/>
<path d="M651.2 1839.8V1843.6"/>
<path d="M910.5 1839.8V1843.6"/>
<path d="M1169.4 1839.8V1843.6"/>
</g>
<text x="441.1" y="1063.3" font-size="25" text-anchor="end">4</text>
<text x="441.1" y="1283.9" font-size="25" text-anchor="end">2</text>
<text x="441.1" y="1505.3" font-size="25" text-anchor="end">0</text>
<text x="441.1" y="1726.4" font-size="25" text-anchor="end">−2</text>
<text x="658.5" y="1867.3" font-size="25" text-anchor="end">−2</text>
<text x="911" y="1867.3" font-size="25" text-anchor="middle">0</text>
<text x="1169" y="1867.3" font-size="25" text-anchor="middle">2</text>
<text transform="translate(336.1 1813.7) rotate(-90)" font-size="33.3">LFCs between CMD-affected IBD and CMD-free IBD</text>
<text x="580.4" y="1958.2" font-size="33.3">LFCs between IBD and healthy control</text>
<text transform="translate(393 1753.8) rotate(-90)" font-size="25.1">Low in CMD</text>
<text transform="translate(393 1235.5) rotate(-90)" font-size="25.1">High in CMD</text>
<path d="M383.4 1077V1016.9" stroke="#e0281a" stroke-width="4.5" fill="none"/>
<path d="M383.4 1008.1L373 1024.5Q378.8 1019.9 383.4 1017.9Q388 1019.9 393.8 1024.5Z" fill="#e0281a"/>
<path d="M383.4 1767.8V1828.7" stroke="#321e9b" stroke-width="4.5" fill="none"/>
<path d="M383.4 1837.5L373 1821.1Q378.8 1825.7 383.4 1827.7Q388 1825.7 393.8 1821.1Z" fill="#321e9b"/>
<path d="M521 1899.4H461.4" stroke="#321e9b" stroke-width="4.5" fill="none"/>
<path d="M452.6 1899.4L469 1889Q464.4 1894.8 462.4 1899.4Q464.4 1904 469 1909.8Z" fill="#321e9b"/>
<text x="533" y="1908.8" font-size="25.1">Low in IBD</text>
<text x="1073.4" y="1908.8" font-size="25.1">High in IBD</text>
<path d="M1207.7 1899.4H1268.7" stroke="#e0281a" stroke-width="4.5" fill="none"/>
<path d="M1277.5 1899.4L1261.1 1889Q1265.7 1894.8 1267.7 1899.4Q1265.7 1904 1261.1 1909.8Z" fill="#e0281a"/>
<text x="2" y="1003.6" font-size="36.5" font-weight="bold">c</text>
<circle cx="1319.7" cy="1043.4" r="11.7" fill="#e84360" fill-opacity="0.47" stroke="#e84360" stroke-opacity="0.45" stroke-width="1"/>
<circle cx="1319.7" cy="1078.5" r="11.7" fill="#bbbbbb" fill-opacity="0.52" stroke="#a8a8aa" stroke-opacity="0.5" stroke-width="1"/>
<text x="1347" y="1052.2" font-size="23.2" textLength="445.6" lengthAdjust="spacingAndGlyphs">Genera associated with both IBD and CMD</text>
<text x="1347" y="1085.7" font-size="23.2" textLength="440.8" lengthAdjust="spacingAndGlyphs">Genera associated with either IBD or CMD</text>
<text x="1312.4" y="1173.6" font-size="23.2">1: Shuttleworthia</text>
<text x="1312.4" y="1223.7" font-size="23.2">2: Coprococcus</text>
<text x="1312.4" y="1273.8" font-size="23.2">3: Ruminococcus</text>
<text x="1312.4" y="1323.9" font-size="23.2">4: Oscillospira</text>
<text x="1312.4" y="1374" font-size="23.2">5: unclassified C_TM7-3 [2]</text>
<text x="1312.4" y="1424.1" font-size="23.2">6: Enterococcus</text>
</svg></body></html>
